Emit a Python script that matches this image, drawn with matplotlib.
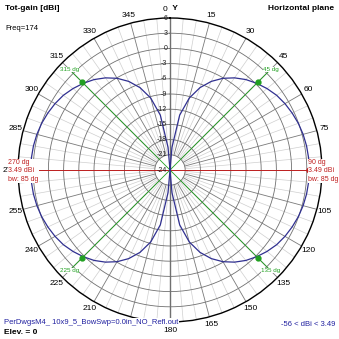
import numpy as np
import matplotlib
matplotlib.use("Agg")
import matplotlib.pyplot as plt

plt.rcParams["font.family"] = ["Liberation Sans", "DejaVu Sans"]

# azimuth (deg) and total gain (dBi)
azimuth = list(range(0, 360, 5))
gain = [
    -56.0, -19.5, -13.0, -9.3, -6.7, -4.7, -3.1, -1.8, -0.7, 0.2, 1.0, 1.7,
    2.2, 2.6, 2.95, 3.2, 3.37, 3.46, 3.49, 3.46, 3.37, 3.2, 2.95, 2.6,
    2.2, 1.7, 1.0, 0.2, -0.7, -1.8, -3.1, -4.7, -6.7, -9.3, -13.0, -19.5,
    -56.0, -19.5, -13.0, -9.3, -6.7, -4.7, -3.1, -1.8, -0.7, 0.2, 1.0, 1.7,
    2.2, 2.6, 2.95, 3.2, 3.37, 3.46, 3.49, 3.46, 3.37, 3.2, 2.95, 2.6,
    2.2, 1.7, 1.0, 0.2, -0.7, -1.8, -3.1, -4.7, -6.7, -9.3, -13.0, -19.5,
]
r_ticks = [6, 3, 0, -3, -6, -9, -12, -15, -18, -21, -24]
max_dirs = [90, 270]
max_gain = 3.49
bw_dirs = [45, 135, 225, 315]
bw_gain = 0.49
bw_labels = ["45 dg", "135 dg", "225 dg", "315 dg"]
angle_labels = [a for a in range(15, 360, 15) if a not in (90, 195)]

R_MIN, R_MAX = -24, 6
blue = "#303090"
red = "#c02020"
green = "#20a020"

fig = plt.figure(figsize=(3.39, 3.39), dpi=100)
ax = fig.add_axes([18 / 339, 17 / 339, 304 / 339, 304 / 339], projection="polar")
ax.set_theta_zero_location("N")
ax.set_theta_direction(-1)
ax.set_ylim(R_MIN, R_MAX)
ax.grid(False)
ax.set_xticks([])
ax.set_yticks([])
ax.spines["polar"].set_color("black")
ax.spines["polar"].set_linewidth(1.0)

t_full = np.linspace(0, 2 * np.pi, 361)
# rings
for r in r_ticks[1:]:
    ax.plot(t_full, np.full_like(t_full, r), color="#707070", lw=0.6, zorder=1)
# spokes
for a in range(0, 360, 5):
    th = np.radians(a)
    if a % 15 == 0:
        ax.plot([th, th], [-21, R_MAX], color="#7a7a7a", lw=0.6, zorder=1)
    else:
        ax.plot([th, th], [-21, R_MAX], color="#cfcfcf", lw=0.5, zorder=0.9)
# Y axis line
ax.plot([0, 0], [R_MIN, R_MAX], color="#707070", lw=1.0, zorder=2)
ax.plot([np.pi, np.pi], [R_MIN, R_MAX], color="#707070", lw=1.0, zorder=2)

# max gain lines
for a in max_dirs:
    th = np.radians(a)
    ax.plot([th, th], [R_MIN, max_gain], color=red, lw=0.7, zorder=3)
    ax.plot([th], [max_gain], "o", color=red, ms=3.5, zorder=5)
# half-power lines
for a, lab in zip(bw_dirs, bw_labels):
    th = np.radians(a)
    ax.plot([th, th], [R_MIN, max_gain], color=green, lw=0.6, zorder=3)
    ax.plot([th], [bw_gain], "o", color=green, ms=3.5, zorder=5)
    ax.text(th, max_gain + 0.6, lab, color=green, fontsize=4.5,
            ha="center", va="center", zorder=6,
            bbox=dict(facecolor="white", edgecolor="none", pad=0.2))

# pattern
th = np.radians(azimuth + [360])
g = np.clip(np.array(gain + [gain[0]]), R_MIN, None)
ax.plot(th, g, color=blue, lw=0.9, zorder=4)

# radial labels
for r in r_ticks:
    ax.annotate(str(r), xy=(0, r), xytext=(-2, 0), textcoords="offset points",
                ha="right", va="center", fontsize=5, color="#202020", zorder=6)

# angle labels
for a in angle_labels:
    ax.text(np.radians(a), 7.6, str(a), fontsize=6, ha="center", va="center",
            clip_on=False, zorder=1)
ax.text(0, 7.6, "0 ", fontsize=6, ha="right", va="center", clip_on=False)
ax.text(0, 7.8, " Y", fontsize=6, ha="left", va="center", fontweight="bold",
        clip_on=False)

# max gain annotations
box = dict(facecolor="white", edgecolor="none", pad=0.3)
for a, x in [(90, 308 / 339), (270, 8 / 339)]:
    txt = f"{a} dg\n{max_gain:.2f} dBi\nbw: 85 dg"
    fig.text(x, 1 - 171 / 339, txt, color=red, fontsize=5, ha="left",
             va="center", linespacing=1.3, bbox=box, zorder=10)

fig.text(5 / 339, 1 - 9 / 339, "Tot-gain [dBi]", fontsize=6, fontweight="bold",
         va="center")
fig.text(5 / 339, 1 - 29 / 339, "Freq=174", fontsize=5.5, va="center")
fig.text(334 / 339, 1 - 9 / 339, "Horizontal plane", fontsize=6,
         fontweight="bold", ha="right", va="center")
fig.text(4 / 339, 1 - 322 / 339, "PerDwgsM4_ 10x9_5_BowSwp=0.0in_NO_Refl.out",
         fontsize=5.5, color="#2020a0", va="center", zorder=10,
         bbox=dict(facecolor="white", edgecolor="none", pad=0.2))
fig.text(4 / 339, 1 - 333 / 339, "Elev. = 0", fontsize=6, fontweight="bold",
         va="center")
fig.text(335 / 339, 1 - 324 / 339, "-56 < dBi < 3.49", fontsize=5.5,
         color="#2020a0", ha="right", va="center")

fig.savefig("out.png", dpi=100)
